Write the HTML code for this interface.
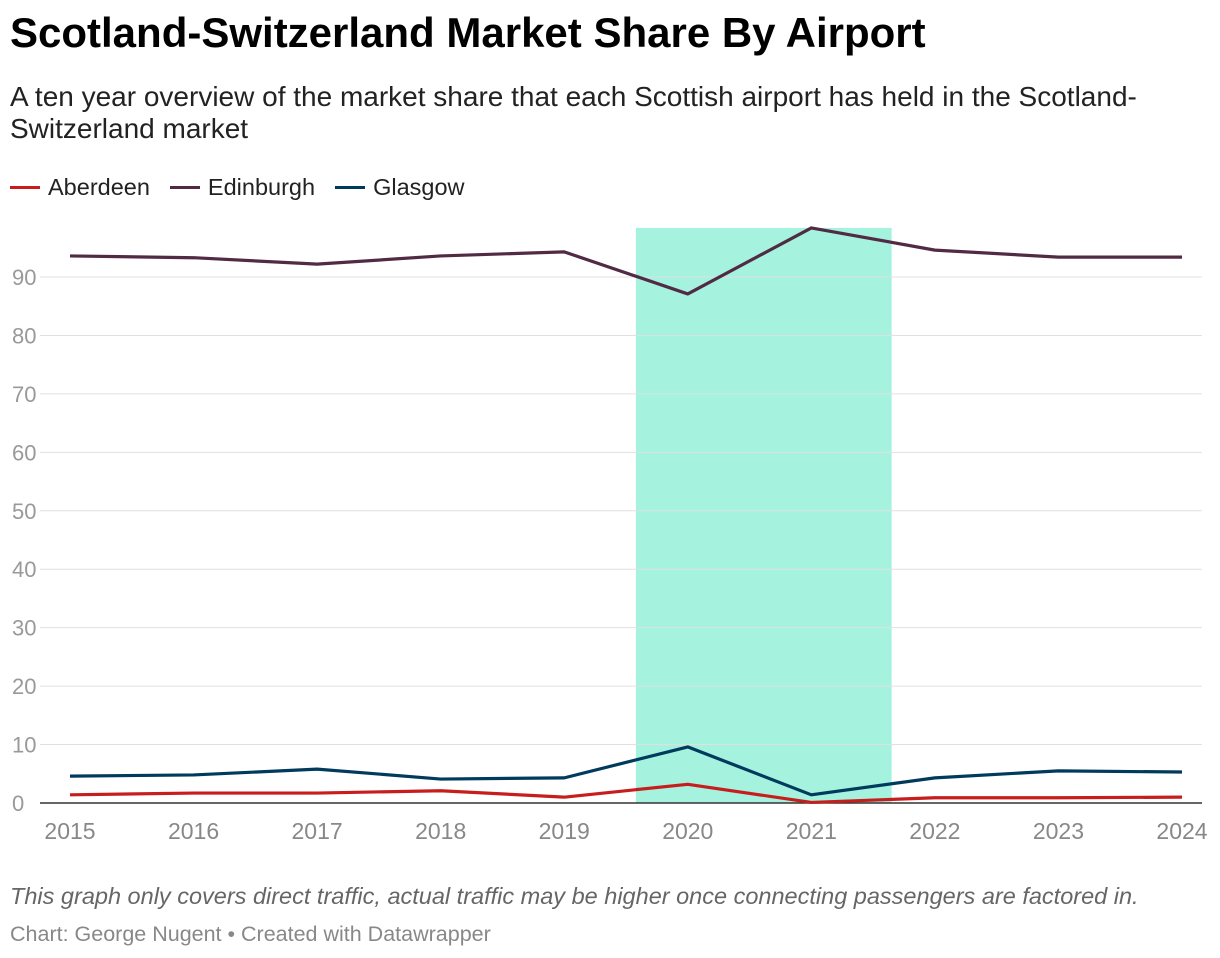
<!DOCTYPE html>
<html><head><meta charset="utf-8">
<style>
body{margin:0;background:#fff;width:1220px;height:958px;overflow:hidden;font-family:"Liberation Sans",sans-serif;}
h1{position:absolute;left:10px;top:9px;margin:0;font-size:42px;font-weight:bold;color:#000;}
.sub{position:absolute;left:10px;top:81px;width:1180px;font-size:28px;line-height:32px;color:#222;}
.legend{position:absolute;left:10px;top:174px;font-size:23.5px;color:#222;display:flex;gap:20px;}
.legend span{display:flex;align-items:center;}
.legend i{display:inline-block;width:30px;height:3.5px;margin-right:8px;}
.note{position:absolute;left:10px;top:883px;font-size:23.5px;font-style:italic;color:#666;}
.credit{position:absolute;left:10px;top:922px;font-size:21.5px;color:#888;}
svg{position:absolute;left:0;top:0;}
</style></head><body>
<h1>Scotland-Switzerland Market Share By Airport</h1>
<div class="sub">A ten year overview of the market share that each Scottish airport has held in the Scotland-Switzerland market</div>
<div class="legend">
<span><i style="background:#c71e1d"></i>Aberdeen</span>
<span><i style="background:#512a44"></i>Edinburgh</span>
<span><i style="background:#003a5c"></i>Glasgow</span>
</div>
<svg id="chart" width="1220" height="958"></svg>
<div class="note">This graph only covers direct traffic, actual traffic may be higher once connecting passengers are factored in.</div>
<div class="credit">Chart: George Nugent • Created with Datawrapper</div>
<script>
const years=[2015,2016,2017,2018,2019,2020,2021,2022,2023,2024];
const aberdeen=[1.4,1.7,1.7,2.1,1.0,3.2,0.1,0.9,0.9,1.0];
const edinburgh=[93.6,93.3,92.2,93.6,94.3,87.1,98.4,94.6,93.4,93.4];
const glasgow=[4.6,4.8,5.8,4.1,4.3,9.6,1.4,4.3,5.5,5.3];
const yTicks=[0,10,20,30,40,50,60,70,80,90];
const highlight=[2019.58,2021.65,98.4];
const NS="http://www.w3.org/2000/svg";
const svg=document.getElementById('chart');
const x=v=>70+(v-2015)*(1182-70)/9;
const y=v=>803-v*(803-277)/90;
function mk(t,a){const e=document.createElementNS(NS,t);for(const k in a)e.setAttribute(k,a[k]);svg.appendChild(e);return e;}
const hb=mk('rect',{x:x(highlight[0]),y:y(highlight[2]),width:x(highlight[1])-x(highlight[0]),height:y(0)-y(highlight[2]),fill:'#a5f2df'});


yTicks.forEach(t=>{
 if(t>0){const g=mk('line',{x1:40,x2:1202,y1:y(t),y2:y(t),stroke:'#e0e0e0','stroke-width':1});
 
 }
 const l=mk('text',{x:12,y:y(t)+8,'font-size':22,fill:'#999','font-family':'Liberation Sans, sans-serif'});
 l.textContent=t;
 
 
});
const ax=mk('line',{x1:40,x2:1202,y1:y(0),y2:y(0),stroke:'#333','stroke-width':1.5});


years.forEach(yr=>{
 const l=mk('text',{x:x(yr),y:839,'font-size':23,fill:'#888','text-anchor':'middle','font-family':'Liberation Sans, sans-serif'});
 l.textContent=yr;
 
 
});
[[aberdeen,'#c71e1d','aberdeen-line'],[edinburgh,'#512a44','edinburgh-line'],[glasgow,'#003a5c','glasgow-line']].forEach(([d,c,n])=>{
 const p=mk('polyline',{points:d.map((v,i)=>x(years[i])+','+y(v)).join(' '),fill:'none',stroke:c,'stroke-width':3.2,'stroke-linejoin':'round'});
 
 
});
</script>
</body></html>
